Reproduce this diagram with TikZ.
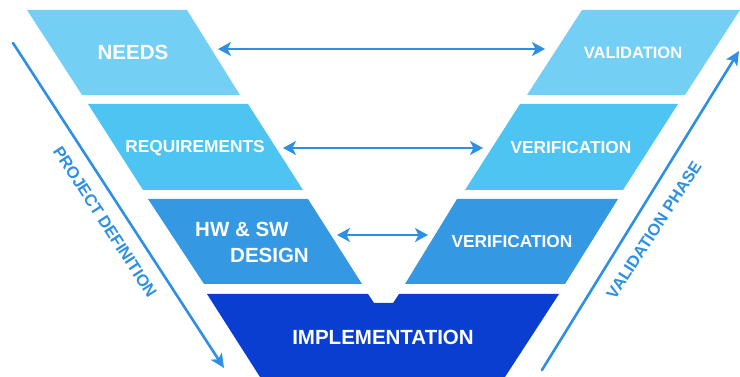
\documentclass[tikz,border=0pt]{standalone}
\usepackage{fontspec}
\setmainfont{Liberation Sans}
\usepackage{tikz}
\usetikzlibrary{arrows.meta}

\definecolor{lightband}{RGB}{115,208,244}
\definecolor{midband}{RGB}{77,196,242}
\definecolor{deepband}{RGB}{53,152,226}
\definecolor{darkband}{RGB}{10,62,208}
\definecolor{arrowblue}{RGB}{46,144,226}

\begin{document}
\begin{tikzpicture}[x=1pt, y=-1pt, line cap=round,
    label/.style={text=white, font=\bfseries\fontsize{#1}{26}\selectfont, inner sep=0pt},
    link/.style={draw=arrowblue, line width=2.8pt, {Stealth[length=13pt,width=14pt,inset=3.5pt]}-{Stealth[length=13pt,width=14pt,inset=3.5pt]}},
    phase/.style={draw=arrowblue, line width=2.6pt, -{Stealth[length=14pt,width=13pt,inset=3.5pt]}},
    phasetext/.style={text=arrowblue, font=\bfseries\fontsize{16.5}{19}\selectfont, inner sep=0pt}]
  \useasboundingbox (0,0) rectangle (740,377);
  \clip (0,0) rectangle (740,377);
  % ---------- 1. left branch ----------
  \fill[lightband] (27,10) -- (187,10) -- (240,95) -- (82,95) -- cycle;
  \node[label=20.5] (needs) at (133,52) {NEEDS};
  \fill[midband] (88,104) -- (248,104) -- (303,190) -- (143,190) -- cycle;
  \node[label=17.3] (req) at (195,148) {REQUIREMENTS};
  \fill[deepband] (148,199) -- (308,199) -- (362,284) -- (204,284) -- cycle;
  \node[label=20.5, align=left] (hwsw) at (252,242) {HW \& SW\\\hspace*{35pt}DESIGN};
  % ---------- 2. bottom: implementation ----------
  \fill[darkband] (207,294) -- (368,294) -- (374,303) -- (393,303) -- (399,294)
    -- (559,294) -- (505,377) -- (260,377) -- cycle;
  \node[label=20.5] (impl) at (383,337) {IMPLEMENTATION};
  % ---------- 3. right branch ----------
  \fill[lightband] (582,10) -- (740,10) -- (685,95) -- (527,95) -- cycle;
  \node[label=16.5] (valid) at (633,53) {VALIDATION};
  \fill[midband] (520,104) -- (678,104) -- (623,190) -- (465,190) -- cycle;
  \node[label=17.3] (verif) at (571,148) {VERIFICATION};
  \fill[deepband] (457,199) -- (618,199) -- (565,284) -- (405,284) -- cycle;
  \node[label=17.3] (verifhw) at (512,242) {VERIFICATION};
  % ---------- arrows: left <-> right ----------
  \coordinate (needs-e) at (218,49);
  \coordinate (valid-w) at (545,49);
  \coordinate (req-e) at (283,148);
  \coordinate (verif-w) at (483,148);
  \coordinate (hwsw-e) at (337,235);
  \coordinate (verifhw-w) at (428,235);
  \draw[link] (needs-e) -- (valid-w);
  \draw[link] (req-e) -- (verif-w);
  \draw[link] (hwsw-e) -- (verifhw-w);
  % ---------- side arrows ----------
  \coordinate (def-top) at (13,43);
  \coordinate (def-bot) at (224,368);
  \draw[phase] (def-top) -- (def-bot);
  \node[phasetext, rotate=-57] (deftext) at (105,222) {PROJECT DEFINITION};
  \coordinate (val-bot) at (542,370);
  \coordinate (val-top) at (739,51);
  \draw[phase] (val-bot) -- (val-top);
  \node[phasetext, rotate=57] (valtext) at (654,230) {VALIDATION PHASE};
\end{tikzpicture}
\end{document}
